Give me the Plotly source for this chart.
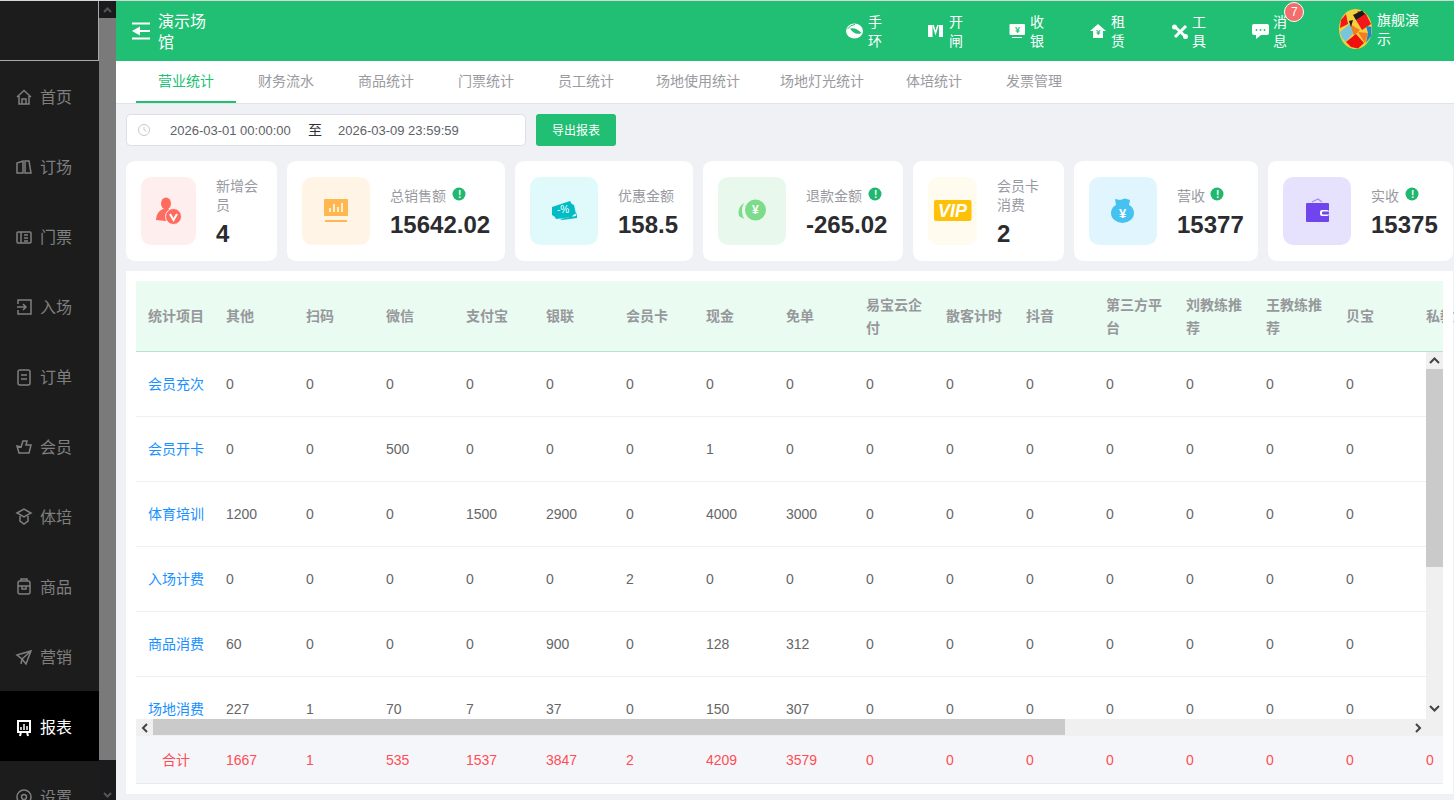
import plotly.graph_objects as go

# sidebar, tabs
menu_items = ["首页", "订场", "门票", "入场", "订单", "会员", "体培", "商品", "营销", "报表", "设置"]
tabs = ["营业统计", "财务流水", "商品统计", "门票统计", "员工统计", "场地使用统计", "场地灯光统计", "体培统计", "发票管理"]

# summary cards
card_labels = [["新增会", "员"], ["总销售额"], ["优惠金额"], ["退款金额"], ["会员卡", "消费"], ["营收"], ["实收"]]
card_values = ["4", "15642.02", "158.5", "-265.02", "2", "15377", "15375"]

# table
columns = ["其他", "扫码", "微信", "支付宝", "银联", "会员卡", "现金", "免单", "易宝云企付", "散客计时",
           "抖音", "第三方平台", "刘教练推荐", "王教练推荐", "贝宝", "私教"]
header_line1 = ["其他", "扫码", "微信", "支付宝", "银联", "会员卡", "现金", "免单", "易宝云企", "散客计时",
                "抖音", "第三方平", "刘教练推", "王教练推", "贝宝", "私教"]
header_line2 = ["", "", "", "", "", "", "", "", "付", "", "", "台", "荐", "荐", "", ""]
rows = ["会员充次", "会员开卡", "体育培训", "入场计费", "商品消费", "场地消费"]
member_topup = [0, 0, 0, 0, 0, 0, 0, 0, 0, 0, 0, 0, 0, 0, 0, 0]
member_open = [0, 0, 500, 0, 0, 0, 1, 0, 0, 0, 0, 0, 0, 0, 0, 0]
training = [1200, 0, 0, 1500, 2900, 0, 4000, 3000, 0, 0, 0, 0, 0, 0, 0, 0]
entry_fee = [0, 0, 0, 0, 0, 2, 0, 0, 0, 0, 0, 0, 0, 0, 0, 0]
goods = [60, 0, 0, 0, 900, 0, 128, 312, 0, 0, 0, 0, 0, 0, 0, 0]
venue = [227, 1, 70, 7, 37, 0, 150, 307, 0, 0, 0, 0, 0, 0, 0, 0]
totals = [1667, 1, 535, 1537, 3847, 2, 4209, 3579, 0, 0, 0, 0, 0, 0, 0, 0]
row_values = [member_topup, member_open, training, entry_fee, goods, venue]

GREEN = "#20bf74"
FONT = "Liberation Sans, Noto Sans CJK SC, sans-serif"

fig = go.Figure()
shapes = []
notes = []


def rrect(x0, y0, x1, y1, r):
    return (f"M{x0+r} {y0} L{x1-r} {y0} Q{x1} {y0} {x1} {y0+r} L{x1} {y1-r} Q{x1} {y1} {x1-r} {y1} "
            f"L{x0+r} {y1} Q{x0} {y1} {x0} {y1-r} L{x0} {y0+r} Q{x0} {y0} {x0+r} {y0} Z")


def box(x0, y0, x1, y1, fill, r=0, line=None):
    if r:
        shapes.append(dict(type="path", path=rrect(x0, y0, x1, y1, r), fillcolor=fill,
                           line=dict(width=1 if line else 0, color=line or fill), layer="above"))
    else:
        shapes.append(dict(type="rect", x0=x0, y0=y0, x1=x1, y1=y1, fillcolor=fill,
                           line=dict(width=0), layer="above"))


def path(d, fill=None, stroke=None, w=1.5):
    shapes.append(dict(type="path", path=d, fillcolor=fill or "rgba(0,0,0,0)",
                       line=dict(width=w if stroke else 0, color=stroke or "rgba(0,0,0,0)"), layer="above"))


def oval(cx, cy, rx, ry, fill=None, stroke=None, w=1.5):
    shapes.append(dict(type="circle", x0=cx-rx, x1=cx+rx, y0=cy-ry, y1=cy+ry, fillcolor=fill or "rgba(0,0,0,0)",
                       line=dict(width=w if stroke else 0, color=stroke or "rgba(0,0,0,0)"), layer="above"))


def label(x, y, text, size=14, color="#999aa1", anchor="left", bold=False, italic=False):
    notes.append(dict(x=x, y=y, text=text, showarrow=False, xanchor=anchor, yanchor="middle", borderpad=0,
                      borderwidth=0, font=dict(size=size, color=color, family=FONT,
                                               weight="bold" if bold else "normal",
                                               style="italic" if italic else "normal")))


# page background blocks that sit under the table text go in as layer below
base = [
    dict(type="rect", x0=116, x1=1454, y0=1, y1=800, fillcolor="#f0f1f5", line=dict(width=0), layer="below"),
    dict(type="rect", x0=126, x1=1453, y0=271, y1=794, fillcolor="white", line=dict(width=0), layer="below"),
    dict(type="rect", x0=136, x1=1443, y0=281, y1=351, fillcolor="#eafbf1", line=dict(width=0), layer="below"),
    dict(type="rect", x0=136, x1=1443, y0=736, y1=783, fillcolor="#f5f6fa", line=dict(width=0), layer="below"),
    dict(type="line", x0=136, x1=1443, y0=351.5, y1=351.5, line=dict(width=1, color="#b9e3cc"), layer="below"),
    dict(type="line", x0=136, x1=1443, y0=783.5, y1=783.5, line=dict(width=1, color="#e9eaef"), layer="below"),
]
for sep in (416.5, 481.5, 546.5, 611.5, 676.5):
    base.append(dict(type="line", x0=136, x1=1443, y0=sep, y1=sep, line=dict(width=1, color="#eeeef5"), layer="below"))

# sidebar
box(0, 0, 1454, 1, "#d6d6d6")
box(0, 1, 99, 800, "#1c1c1c")
box(99, 1, 116, 800, "#7a7a7a")
box(99, 1, 116, 18, "#1b1b1d")
box(99, 760, 116, 800, "#1b1b1d")
path("M104 12 L107.5 8.5 L111 12", stroke="#555555", w=2)
path("M104 793 L107.5 796.5 L111 793", stroke="#555555", w=2)
box(0, 60, 99, 61, "#a9a9a9")
box(98, 1, 99, 61, "#a9a9a9")
box(0, 691, 99, 761, "#000000")
for i, item in enumerate(menu_items):
    active = item == "报表"
    label(40, 97 + 70 * i, item, 16, "white" if active else "#7f7f7f")
MC = "#7f7f7f"
path("M17 97 L24 90.5 L31 97 M19 96 L19 104 L29 104 L29 96 M22 104 L22 99 L26 99 L26 104", stroke=MC)
path("M17 173 L17 163 L23 161 L23 173 Z M25 173 L25 161 L29 161 L31 173 Z", stroke=MC)
path(rrect(17, 232, 31, 243, 1), stroke=MC)
path("M21 232 L21 243 M24 235 L28 235 M24 238 L28 238 M24 241 L28 241", stroke=MC)
path("M18 304 L18 300 L31 300 L31 314 L18 314 L18 310 M17 307 L26 307 M23 304 L26 307 L23 310", stroke=MC)
path(rrect(18, 370, 30, 385, 2), stroke=MC)
path("M21 375 L27 375 M21 379 L27 379", stroke=MC)
path("M17 446 L21 447 L23 441 L27 441 L26 445 L31 445 L29 453 L19 453 Z", stroke=MC)
path("M17 513 L24 509 L31 513 L24 517 Z M20 516 L20 521 L24 524 L28 521 L28 516", stroke=MC)
path(rrect(18, 581, 30, 594, 2), stroke=MC)
path("M18 586 L30 586 M22 586 L22 589 L26 589 L26 586 M21 581 L21 579 L27 579 L27 581", stroke=MC)
path("M17 655 L31 651 L26 664 L22 659 Z M22 659 L31 651 M22 659 L21 664", stroke=MC)
path("M17 721 L31 721 M18 721 L18 732 L30 732 L30 721 M20 736 L21 732 M28 736 L27 732", stroke="white", w=2)
path("M21 730 L21 727 M24 730 L24 724 M27 730 L27 726", stroke="white", w=1.5)
oval(24, 797, 7, 7, stroke=MC)
oval(24, 797, 2.5, 2.5, stroke=MC)

# top bar
box(116, 1, 1454, 61, GREEN)
path("M132 23.5 L150 23.5 M140 31 L150 31 M132 38.5 L150 38.5", stroke="white", w=2)
path("M132 31 L140 26.5 L140 35.5 Z", fill="white")
label(158, 21, "演示场", 16, "white")
label(158, 42, "馆", 16, "white")
for x, a, b in [(868, "手", "环"), (949, "开", "闸"), (1030, "收", "银"), (1111, "租", "赁"), (1192, "工", "具"), (1273, "消", "息")]:
    label(x, 22, a, 14, "white")
    label(x, 41, b, 14, "white")
label(1377, 20, "旗舰演", 14, "white")
label(1377, 39, "示", 14, "white")
oval(854.5, 31, 8.5, 7.5, fill="white")
path("M850 28.5 Q856 27 861.5 33 Q855 36 850 28.5 Z", fill=GREEN)
path("M847.5 29 Q850 25 855 24.5", stroke=GREEN, w=1)
box(928, 25, 932.5, 37, "white")
box(939, 25, 943, 37, "white")
path("M933 25 L935.5 33 L938 25", stroke="white", w=1.5)
box(1009.5, 24, 1025, 35, "white", 1)
label(1017.5, 29.5, "¥", 9, GREEN, "center", True)
box(1012, 37, 1022, 38, "white")
path("M1090 31 L1098 24 L1106 31 L1103 31 L1103 38 L1093 38 L1093 31 Z", fill="white")
label(1098, 32, "¥", 8, GREEN, "center", True)
path("M1174 26 L1186 37 M1186 26 L1175 37", stroke="white", w=3)
oval(1174.5, 27, 2.5, 2.5, fill="white")
oval(1185.5, 36.5, 2.5, 2.5, fill="white")
path(rrect(1252, 24, 1269, 35, 2) + " M1256 35 L1256 39 L1261 35 Z", fill="white")
for dot_x in (1256.5, 1260.5, 1264.5):
    oval(dot_x, 30, 0.9, 0.9, fill=GREEN)
oval(1355.5, 29, 16.5, 20, fill="#f4d03f")
for color, pts in [
    ("#f01818", [(1358, 11), (1366, 14), (1371, 24), (1362, 30), (1356, 20)]),
    ("#1c1c1c", [(1353, 15), (1362, 10.5), (1365, 14), (1356, 20)]),
    ("#f01818", [(1341, 20), (1346, 14), (1348, 24), (1340, 28)]),
    ("#78c6dc", [(1340, 32), (1350, 24), (1354, 32), (1346, 42), (1342, 38)]),
    ("#f57c20", [(1350, 24), (1360, 30), (1354, 36)]),
    ("#f01010", [(1346, 42), (1356, 34), (1364, 43), (1358, 48.5), (1351, 47)]),
    ("#f57c20", [(1358, 32), (1368, 33), (1365, 43)]),
    ("#1c86d6", [(1366, 26), (1371.5, 27), (1371, 36), (1366, 43), (1368, 33)]),
    ("#1c1c1c", [(1349, 21), (1353, 20), (1351, 27)]),
]:
    path("M" + " L".join(f"{x} {y}" for x, y in pts) + " Z", fill=color)
oval(1294, 12, 9.5, 9.5, fill="#f56c6c", stroke="white", w=1)
label(1294, 12, "7", 12, "white", "center")

# tabs
box(116, 61, 1454, 103, "white")
box(116, 103, 1454, 104, "#e4e4e8")
box(136, 101, 236, 103, GREEN)
for x, tab in zip([186, 286, 386, 486, 586, 698, 822, 934, 1034], tabs):
    label(x, 81, tab, 14, GREEN if tab == "营业统计" else "#9a9aa0", "center")

# date filter
box(126.5, 114.5, 525.5, 145.5, "white", 4, "#dcdfe6")
oval(144, 130, 5.5, 5.5, stroke="#c8c9d0", w=1)
path("M144 127 L144 130 L146.5 131.5", stroke="#c8c9d0", w=1)
label(170, 130, "2026-03-01 00:00:00", 13, "#606266")
label(315, 130, "至", 14, "#303133", "center")
label(337.5, 130, "2026-03-09 23:59:59", 13, "#606266")
box(536, 114, 616, 146, GREEN, 3)
label(576, 130, "导出报表", 12, "white", "center")

# cards
card_x = [(126, 277), (287, 505), (515, 693), (703, 903), (913, 1064), (1074, 1258), (1268, 1453)]
tile_x = [(141, 196), (302, 370), (530, 598), (718, 786), (928, 977), (1089, 1157), (1283, 1351)]
tile_col = ["#ffeeee", "#fff4e5", "#e0f9fb", "#e9f8ec", "#fffbee", "#e0f5fd", "#e6e1fc"]
text_x = [216, 390, 618, 806, 997, 1177, 1371]
dot_x = [None, 459, None, 875, None, 1217, 1412]
for i in range(7):
    box(card_x[i][0], 161, card_x[i][1], 261, "white", 10)
    box(tile_x[i][0], 177, tile_x[i][1], 245, tile_col[i], 12)
    if len(card_labels[i]) == 2:
        label(text_x[i], 186, card_labels[i][0])
        label(text_x[i], 205, card_labels[i][1])
        label(text_x[i], 233, card_values[i], 24, "#2c2c30", bold=True)
    else:
        label(text_x[i], 196, card_labels[i][0])
        label(text_x[i], 224, card_values[i], 24, "#2c2c30", bold=True)
    if dot_x[i]:
        oval(dot_x[i], 194, 6.5, 6.5, fill="#1fb86e")
        label(dot_x[i], 194, "!", 10, "white", "center", True)

# card icons
oval(166, 203.5, 5, 6, fill="#ff6b5e")
path("M156 220 Q156 212 163 209 L170 209 Q168 215 166 221 Z", fill="#ff6b5e")
oval(173.5, 216.5, 8, 8, fill="#ff6b5e", stroke="#ffeeee", w=1)
path("M170 214 L173.5 220 L177 214", stroke="white", w=2)
box(324, 199, 348, 216, "#ffb74f", 1)
path("M330 212 L330 208 M334 212 L334 204 M338 212 L338 207 M342 212 L342 203", stroke="white", w=1.5)
box(325, 220, 347, 222, "#ffb74f")
path("M552 207 L570 201 Q571 204 574 205 L576 214 Q573 214 572 217 L556 219 Q555 216 552 215 Z", fill="#00bcc4")
path("M560 219 L576 216 L577 212 L577 218 L562 220 Z", fill="#00bcc4")
label(563, 209.5, "-%", 10, "white", "center")
oval(755.5, 210, 10.5, 10.5, fill="#7ddb8c")
label(755.5, 210, "¥", 12, "white", "center", True)
path("M744 203 Q740 210 744 219 L739 216 L738.5 212 Q739 206 744 203 Z", fill="#7ddb8c")
box(934, 200, 971.5, 221, "#ffc107", 2)
label(952.5, 210.5, "VIP", 18, "white", "center", True, True)
oval(1122.5, 213, 11.5, 10, fill="#45c2f0")
path("M1115 199 L1120 200 L1125 198.5 L1130 200 L1129 205 L1116 205 Z", fill="#45c2f0")
label(1122.5, 213, "¥", 13, "white", "center", True)
path("M1312 202 L1318 199 L1322 202", stroke="#a48cf5", w=1.2)
box(1306, 203, 1329, 222, "#7045ee", 1)
box(1320, 210, 1329, 216, "white", 2)
box(1322, 211.5, 1329, 214.5, "#7045ee", 1)

# table scrollbars drawn over the cells so the last row and column get cut off like in the page
box(1426, 352, 1443, 736, "#f0f0f0")
box(1426, 369, 1443, 567, "#cacaca")
path("M1430 363 L1434.5 358.5 L1439 363", stroke="#444444", w=2)
path("M1430 706 L1434.5 710.5 L1439 706", stroke="#444444", w=2)
box(136, 719, 1426, 736, "#f0f0f0")
box(153, 719, 1065, 735, "#cacaca")
path("M147 724 L143 728 L147 732", stroke="#444444", w=2)
path("M1416 724 L1420 728 L1416 732", stroke="#444444", w=2)
box(1443, 281, 1453, 351, "white")
box(1443, 351, 1453, 794, "white")

CELL_FONT = dict(family=FONT, size=14, color="#666666")


def texts(x, y, text, font, pos="middle right", xaxis="x", yaxis="y"):
    fig.add_trace(go.Scatter(x=x, y=y, text=text, mode="text", textposition=pos, textfont=font,
                             hoverinfo="skip", showlegend=False, xaxis=xaxis, yaxis=yaxis, cliponaxis=False))


head_font = dict(family=FONT, size=14, color="#96989c", weight="bold")
one_line = [c for c, b in zip(columns, header_line2) if not b]
texts(one_line, [317] * len(one_line), [a for a, b in zip(header_line1, header_line2) if not b], head_font, xaxis="x2")
two_line = [c for c, b in zip(columns, header_line2) if b]
texts(two_line, [306] * len(two_line), [a for a, b in zip(header_line1, header_line2) if b], head_font, xaxis="x2")
texts(two_line, [329] * len(two_line), [b for b in header_line2 if b], head_font, xaxis="x2")
texts([148], [317], ["统计项目"], head_font)

texts([148] * len(rows), rows, rows, dict(family=FONT, size=14, color="#1890ff"), yaxis="y2")
for row, values in zip(rows, row_values):
    texts(columns, [row] * len(columns), values, CELL_FONT, xaxis="x2", yaxis="y2")

red_font = dict(family=FONT, size=14, color="#ff4d55")
texts([176], [761], ["合计"], red_font, pos="middle center")
texts(columns, [761] * len(columns), totals, red_font, xaxis="x2")

fig.update_layout(
    width=1454, height=800, margin=dict(l=0, r=0, t=0, b=0), paper_bgcolor="white", plot_bgcolor="white",
    showlegend=False, shapes=base + shapes, annotations=notes,
    xaxis=dict(range=[0, 1454], visible=False, fixedrange=True, domain=[0, 1]),
    yaxis=dict(range=[800, 0], visible=False, fixedrange=True, domain=[0, 1]),
    # one column every 80 px starting at x=226
    xaxis2=dict(type="category", categoryorder="array", categoryarray=columns, overlaying="x",
                range=[-226 / 80, (1454 - 226) / 80], visible=False, fixedrange=True),
    # one row every 65 px starting at y=385
    yaxis2=dict(type="category", categoryorder="array", categoryarray=rows, overlaying="y",
                range=[(800 - 385) / 65, -385 / 65], visible=False, fixedrange=True),
)

fig.write_html("out.html", config={"displayModeBar": False},
               post_script="document.body.style.margin='0';document.body.style.overflow='hidden';")
